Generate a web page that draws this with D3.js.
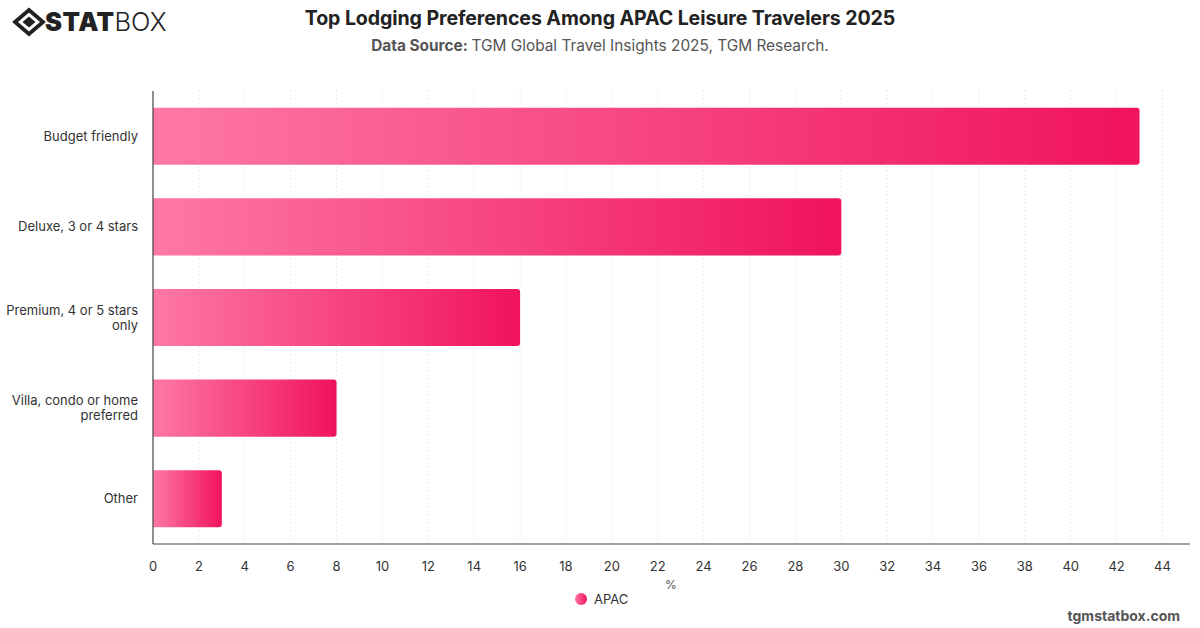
<!DOCTYPE html>
<html>
<head>
<meta charset="utf-8">
<script src="https://cdn.jsdelivr.net/npm/d3@7"></script>
<style>
  body { margin: 0; background: #fff; }
  text { font-family: Inter, "Helvetica Neue", Arial, sans-serif; }
</style>
</head>
<body>
<div id="chart"></div>
<script>
const categories = [
  ["Budget friendly"],
  ["Deluxe, 3 or 4 stars"],
  ["Premium, 4 or 5 stars", "only"],
  ["Villa, condo or home", "preferred"],
  ["Other"]
]
const values = [43, 30, 16, 8, 3]
const ticks = d3.range(0, 45, 2)
const seriesName = "APAC"

const width = 1200
const height = 628
const margin = { top: 91, right: 10, bottom: 84, left: 153 }

const svg = d3.select("#chart")
  .append("svg")
  .attr("width", width)
  .attr("height", height)

const defs = svg.append("defs")
const grad = defs.append("linearGradient")
  .attr("id", "barGrad")
  .attr("x1", "0").attr("x2", "1").attr("y1", "0").attr("y2", "0")
grad.append("stop").attr("offset", "0%").attr("stop-color", "#fe78a6")
grad.append("stop").attr("offset", "100%").attr("stop-color", "#f0125e")

const x = d3.scaleLinear()
  .domain([0, 45.2])
  .range([margin.left, width - margin.right])

const y = d3.scaleBand()
  .domain(d3.range(categories.length))
  .range([margin.top, height - margin.bottom])
  .paddingInner(0.37)
  .paddingOuter(0.185)

// gridlines
svg.append("g")
  .selectAll("line")
  .data(ticks.slice(1))
  .join("line")
  .attr("x1", d => x(d)).attr("x2", d => x(d))
  .attr("y1", margin.top).attr("y2", height - margin.bottom)
  .attr("stroke", "#ddd")
  .attr("stroke-dasharray", "1,3")

// bars
svg.append("g")
  .selectAll("path")
  .data(values)
  .join("path")
  .attr("fill", "url(#barGrad)")
  .attr("d", (d, i) => {
    const x0 = x(0), x1 = x(d), y0 = y(i), h = y.bandwidth(), r = 3
    return `M${x0},${y0}H${x1 - r}Q${x1},${y0} ${x1},${y0 + r}V${y0 + h - r}Q${x1},${y0 + h} ${x1 - r},${y0 + h}H${x0}Z`
  })

// axes lines
svg.append("line")
  .attr("x1", margin.left).attr("x2", margin.left)
  .attr("y1", margin.top).attr("y2", height - margin.bottom)
  .attr("stroke", "#444").attr("stroke-width", 1.2)
svg.append("line")
  .attr("x1", margin.left).attr("x2", width - margin.right)
  .attr("y1", height - margin.bottom).attr("y2", height - margin.bottom)
  .attr("stroke", "#444").attr("stroke-width", 1.2)

// x tick labels
svg.append("g")
  .selectAll("text")
  .data(ticks)
  .join("text")
  .attr("x", d => x(d))
  .attr("y", 571)
  .attr("text-anchor", "middle")
  .attr("font-size", 13)
  .attr("fill", "#333")
  .text(d => d)

// y labels
const yl = svg.append("g")
  .selectAll("text")
  .data(categories)
  .join("text")
  .attr("text-anchor", "end")
  .attr("font-size", 13)
  .attr("fill", "#333")
  .attr("y", (d, i) => y(i) + y.bandwidth() / 2 - (d.length - 1) * 7.5 + 4.5)
yl.selectAll("tspan")
  .data(d => d)
  .join("tspan")
  .attr("x", 138)
  .attr("dy", (d, j) => j === 0 ? 0 : 15)
  .text(d => d)

// axis title
svg.append("text")
  .attr("x", 671).attr("y", 589)
  .attr("text-anchor", "middle")
  .attr("font-size", 12)
  .attr("fill", "#555")
  .text("%")

// legend
svg.append("circle")
  .attr("cx", 581).attr("cy", 599).attr("r", 6)
  .attr("fill", "url(#barGrad)")
svg.append("text")
  .attr("x", 594).attr("y", 604)
  .attr("font-size", 13)
  .attr("fill", "#333")
  .text(seriesName)

// title
svg.append("text")
  .attr("x", 600).attr("y", 25)
  .attr("text-anchor", "middle")
  .attr("font-size", 19.6)
  .attr("font-weight", "bold")
  .attr("letter-spacing", -0.1)
  .attr("fill", "#222")
  .text("Top Lodging Preferences Among APAC Leisure Travelers 2025")

const sub = svg.append("text")
  .attr("x", 600).attr("y", 51)
  .attr("text-anchor", "middle")
  .attr("font-size", 15.4)
  .attr("fill", "#555")
sub.append("tspan").attr("font-weight", "bold").text("Data Source: ")
sub.append("tspan").text("TGM Global Travel Insights 2025, TGM Research.")

// footer
svg.append("text")
  .attr("x", 1180).attr("y", 621)
  .attr("text-anchor", "end")
  .attr("font-size", 14)
  .attr("font-weight", "bold")
  .attr("fill", "#555")
  .text("tgmstatbox.com")

// logo
const logo = svg.append("g").attr("transform", "translate(29,22)")
logo.append("path")
  .attr("d", "M-14,0L0,-12L14,0L0,12Z")
  .attr("fill", "none").attr("stroke", "#222").attr("stroke-width", 3.8)
logo.append("path")
  .attr("d", "M-6.5,0L0,-5.5L6.5,0L0,5.5Z")
  .attr("fill", "#222")
const lt = svg.append("text")
  .attr("x", 45).attr("y", 31)
  .attr("font-size", 25.5)
  .attr("fill", "#222")
lt.append("tspan").attr("font-weight", 900).attr("letter-spacing", 0.5).text("STAT")
lt.append("tspan").attr("font-weight", 300).text("BOX")
</script>
</body>
</html>
